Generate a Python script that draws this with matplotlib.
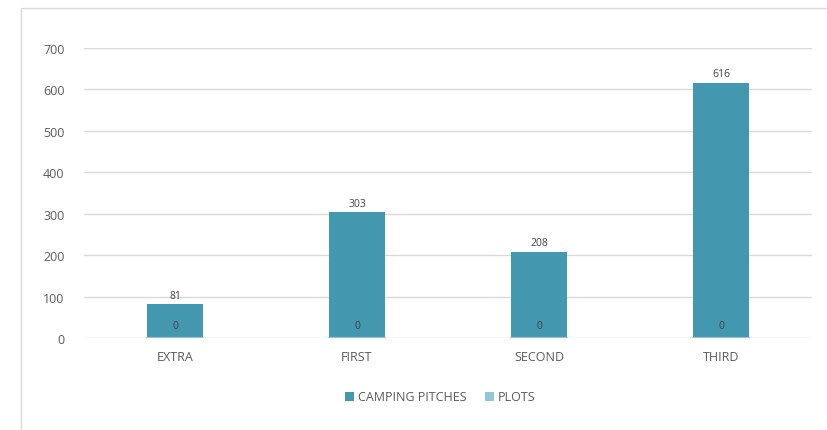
import matplotlib.pyplot as plt
from matplotlib.patches import Rectangle
import numpy as np

categories = ["EXTRA", "FIRST", "SECOND", "THIRD"]
camping_pitches = [81, 303, 208, 616]
plots = [0, 0, 0, 0]

teal = "#4398AF"
light = "#92C6D7"
grey = "#595959"

plt.rcParams["font.family"] = ["Open Sans", "DejaVu Sans"]

fig = plt.figure(figsize=(8.27, 4.31), dpi=100)
ax = fig.add_axes([84 / 827, 92 / 431, 728 / 827, 290 / 431])

# outer chart frame (only left and top edges show)
fig.patches.append(Rectangle((21 / 827, -0.1), 1.1, (431 - 9) / 431 + 0.1,
                             transform=fig.transFigure, fill=False,
                             edgecolor="#D9D9D9", linewidth=1))

x = np.arange(len(categories))
w = 0.31
ax.bar(x, camping_pitches, width=w, color=teal, zorder=3, label="CAMPING PITCHES")
ax.bar(x, plots, width=w, color=light, zorder=4, label="PLOTS")
# zero-height PLOTS bars show up as a thin line on the baseline
for i in x:
    ax.plot([i - w / 2, i + w / 2], [0, 0], color=light, linewidth=1.5, zorder=5)

for i, v in zip(x, camping_pitches):
    ax.text(i, v + 9, str(v), ha="center", va="bottom", fontsize=7.5, color="#404040")
for i, v in zip(x, plots):
    ax.text(i, v + 29, str(v), ha="center", va="center", fontsize=7.5, color="#404040", zorder=6)

ax.set_xlim(-0.5, 3.5)
ax.set_ylim(0, 700)
ax.set_yticks(range(0, 701, 100))
ax.set_xticks(x)
ax.set_xticklabels(categories)
ax.yaxis.grid(True, color="#D9D9D9", linewidth=1, zorder=0)
ax.set_axisbelow(True)
for s in ax.spines.values():
    s.set_visible(False)
ax.tick_params(length=0, labelsize=9, colors=grey)
ax.tick_params(axis="y", pad=14)
ax.tick_params(axis="x", pad=9)

fig.legend(loc="center", bbox_to_anchor=(440 / 827, 1 - 398 / 431), ncol=2,
           frameon=False, fontsize=9, labelcolor=grey, handlelength=0.7,
           handleheight=0.7, handletextpad=0.3, columnspacing=1.5)

fig.savefig("out.png", dpi=100)
